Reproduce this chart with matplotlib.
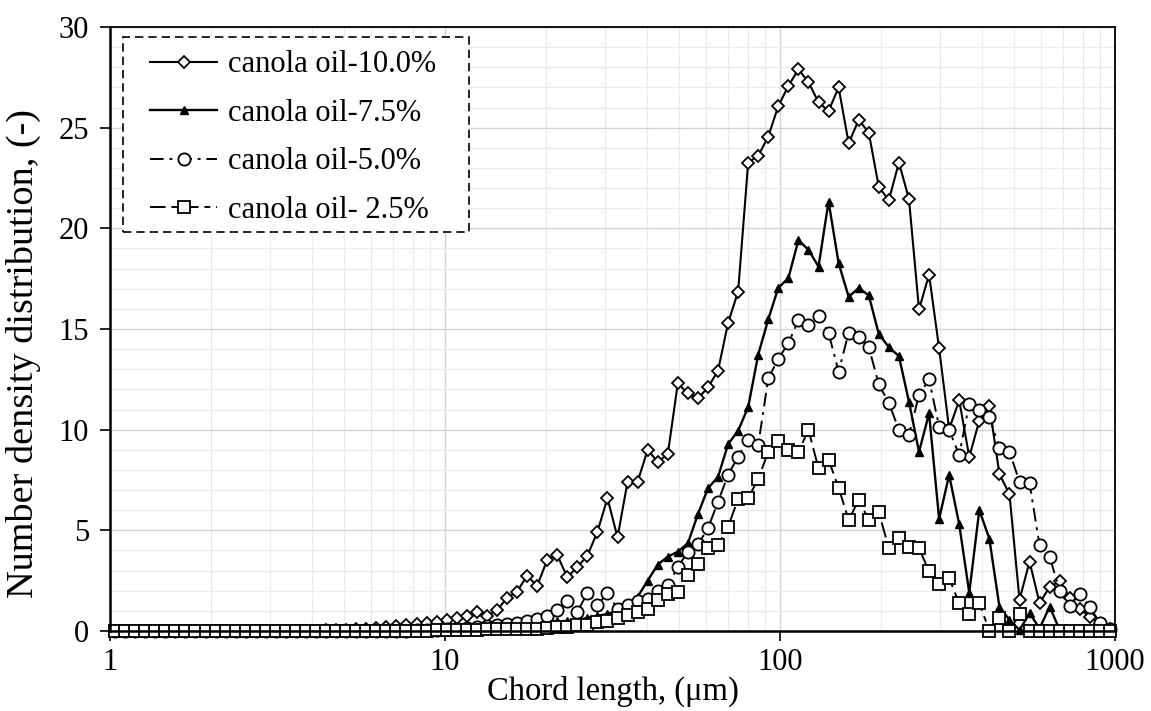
import numpy as np
import matplotlib
matplotlib.use("Agg")
import matplotlib.pyplot as plt
from matplotlib.patches import Rectangle
from matplotlib.ticker import FixedLocator, FixedFormatter, MultipleLocator, NullFormatter

plt.rcParams["font.family"] = ["Liberation Serif", "DejaVu Serif"]

# FBRM chord-length channels: 100 log-spaced bins between 1 and 1000 um,
# plotted at their geometric mid-points
channel_edges = np.logspace(0, 3, 101)
chord_length = np.sqrt(channel_edges[:-1] * channel_edges[1:])

canola_10_0 = [
    0, 0, 0, 0, 0, 0, 0, 0, 0, 0,
    0, 0, 0, 0, 0, 0, 0, 0, 0, 0,
    0.02, 0.03, 0.05, 0.07, 0.10, 0.12, 0.15, 0.20, 0.25, 0.30,
    0.35, 0.40, 0.45, 0.55, 0.65, 0.73, 0.93, 0.77, 1.02, 1.65,
    1.95, 2.75, 2.24, 3.53, 3.78, 2.67, 3.18, 3.74, 4.93, 6.60,
    4.65, 7.42, 7.42, 9.00, 8.40, 8.78, 12.30, 11.80, 11.55, 12.10,
    12.93, 15.30, 16.86, 23.27, 23.60, 24.56, 26.08, 27.07, 27.90, 27.26,
    26.26, 25.83, 27.00, 24.23, 25.39, 24.76, 22.05, 21.40, 23.27, 21.46,
    15.97, 17.70, 14.05, 10.03, 11.46, 8.65, 10.45, 11.20, 7.80, 6.80,
    1.55, 3.45, 1.38, 2.20, 2.47, 1.62, 1.10, 0.70, 0.35, 0.10,
]

canola_7_5 = [
    0, 0, 0, 0, 0, 0, 0, 0, 0, 0,
    0, 0, 0, 0, 0, 0, 0, 0, 0, 0,
    0.02, 0.03, 0.04, 0.05, 0.06, 0.07, 0.08, 0.09, 0.10, 0.12,
    0.14, 0.16, 0.18, 0.20, 0.22, 0.25, 0.27, 0.30, 0.32, 0.35,
    0.38, 0.40, 0.42, 0.45, 0.48, 0.50, 0.55, 0.65, 0.75, 0.85,
    1.00, 1.35, 1.70, 2.50, 3.30, 3.69, 3.94, 4.36, 5.80, 7.09,
    7.65, 9.28, 9.95, 11.12, 13.73, 15.48, 17.05, 17.52, 19.42, 18.93,
    18.10, 21.33, 18.27, 16.60, 17.04, 16.67, 14.75, 14.10, 13.65, 11.39,
    8.90, 10.81, 5.57, 7.75, 5.30, 1.90, 6.01, 4.58, 1.21, 0.55,
    0.05, 0.88, 0.13, 1.21, 0.05, 0.02, 0, 0, 0, 0,
]

canola_5_0 = [
    0, 0, 0, 0, 0, 0, 0, 0, 0, 0,
    0, 0, 0, 0, 0, 0, 0, 0, 0, 0,
    0, 0, 0, 0, 0, 0, 0, 0, 0.01, 0.02,
    0.03, 0.05, 0.07, 0.10, 0.12, 0.15, 0.20, 0.25, 0.30, 0.35,
    0.40, 0.50, 0.60, 0.75, 1.04, 1.50, 0.96, 1.87, 1.30, 1.87,
    1.10, 1.30, 1.50, 1.60, 2.00, 2.29, 3.17, 3.94, 4.30, 5.10,
    6.42, 7.75, 8.66, 9.49, 9.24, 12.55, 13.52, 14.29, 15.45, 15.20,
    15.65, 14.80, 12.88, 14.82, 14.60, 14.10, 12.25, 11.32, 10.00, 9.74,
    11.72, 12.50, 10.15, 9.99, 8.74, 11.30, 11.00, 10.65, 9.08, 8.90,
    7.42, 7.34, 4.25, 3.69, 2.00, 1.25, 1.85, 1.18, 0.40, 0.10,
]

canola_2_5 = [
    0, 0, 0, 0, 0, 0, 0, 0, 0, 0,
    0, 0, 0, 0, 0, 0, 0, 0, 0, 0,
    0, 0, 0, 0, 0, 0, 0, 0, 0, 0,
    0, 0.02, 0.03, 0.04, 0.05, 0.06, 0.07, 0.08, 0.09, 0.10,
    0.10, 0.10, 0.11, 0.13, 0.18, 0.21, 0.30, 0.30, 0.46, 0.51,
    0.63, 0.79, 0.96, 1.08, 1.54, 1.82, 1.92, 2.80, 3.33, 4.11,
    4.27, 5.18, 6.56, 6.62, 7.54, 8.91, 9.42, 9.00, 8.90, 9.99,
    8.08, 8.50, 7.12, 5.51, 6.51, 5.53, 5.90, 4.11, 4.60, 4.16,
    4.11, 2.97, 2.35, 2.62, 1.38, 0.86, 1.38, 0.02, 0.63, 0.02,
    0.83, 0, 0, 0, 0, 0, 0, 0, 0, 0,
]

series_labels = ["canola oil-10.0%", "canola oil-7.5%", "canola oil-5.0%", "canola oil- 2.5%"]
x_tick_values = [1, 10, 100, 1000]
x_tick_labels = ["1", "10", "100", "1000"]
y_tick_values = [0, 5, 10, 15, 20, 25, 30]

fig = plt.figure(figsize=(11.51, 7.11), dpi=100)
ax = fig.add_axes([0.0956, 0.1125, 0.8731, 0.8495])

styles = [
    dict(marker="D", ms=6.4, mfc="white", mec="black", mew=1.3, ls="-", lw=1.5),
    dict(marker="^", ms=5.2, mfc="black", mec="black", mew=1.0, ls="-", lw=1.7),
    dict(marker="o", ms=8.8, mfc="white", mec="black", mew=1.3, ls=(0, (7, 3, 1.5, 3)), lw=1.4),
    dict(marker="s", ms=8.0, mfc="white", mec="black", mew=1.3, ls=(0, (8, 3, 3, 3)), lw=1.4),
]
for values, label, st in zip([canola_10_0, canola_7_5, canola_5_0, canola_2_5], series_labels, styles):
    ax.plot(chord_length, values, color="black", label=label, clip_on=False, **st)

ax.set_xscale("log")
ax.set_xlim(1, 1000)
ax.set_ylim(0, 30)

ax.xaxis.set_major_locator(FixedLocator(x_tick_values))
ax.xaxis.set_major_formatter(FixedFormatter(x_tick_labels))
minor_x = [m * 10 ** d for d in range(3) for m in range(2, 10)]
ax.xaxis.set_minor_locator(FixedLocator(minor_x))
ax.xaxis.set_minor_formatter(NullFormatter())
ax.yaxis.set_major_locator(FixedLocator(y_tick_values))
ax.yaxis.set_minor_locator(MultipleLocator(1))

ax.grid(which="major", color="#d4d4d4", lw=1.0)
ax.grid(which="minor", color="#ebebeb", lw=1.0)
ax.set_axisbelow(True)

ax.tick_params(axis="both", which="major", direction="out", length=7, width=1.2,
               labelsize=22, colors="black")
ax.tick_params(axis="y", which="major", pad=8)
ax.tick_params(axis="x", which="major", pad=5)
ax.tick_params(axis="both", which="minor", length=0)

for side in ["top", "right"]:
    ax.spines[side].set_linewidth(1.3)
for side in ["left", "bottom"]:
    ax.spines[side].set_linewidth(1.8)

ax.set_xlabel("Chord length, (μm)", fontsize=23.5, labelpad=-1)
ax.set_ylabel("Number density distribution, (-)", fontsize=27.5)
ax.yaxis.set_label_coords(-0.069, 0.46)

# dashed legend box drawn as its own patch, entries placed inside it
legend_box = Rectangle((0.0129, 0.6606), 0.3443, 0.3228, transform=ax.transAxes,
                       facecolor="white", edgecolor="black", lw=1.2,
                       linestyle=(0, (5, 3)), zorder=4.9)
ax.add_patch(legend_box)
leg = ax.legend(loc="upper left", bbox_to_anchor=(0.040, 0.9615), fontsize=22,
                handlelength=2.2, handletextpad=0.33, labelspacing=0.64,
                borderpad=0.0, borderaxespad=0.0, frameon=False)
leg.set_zorder(5)

fig.savefig("out.png", dpi=100)
